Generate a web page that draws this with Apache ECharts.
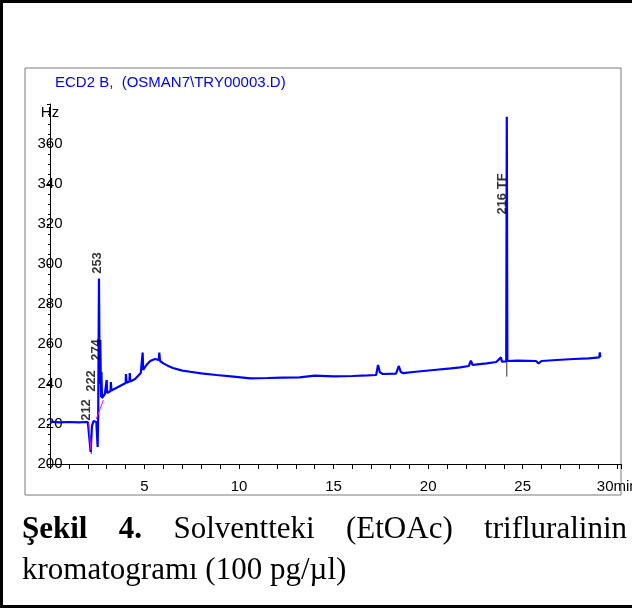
<!DOCTYPE html>
<html>
<head>
<meta charset="utf-8">
<script src="https://cdn.jsdelivr.net/npm/echarts@6/dist/echarts.min.js"></script>
<style>
  body { margin: 0; background: #fff; }
  #wrap { position: relative; width: 632px; height: 609px; overflow: hidden; }
  #main { position: absolute; left: 0; top: 0; width: 632px; height: 609px; }
  #frame { position: absolute; left: 0; top: 0; width: 640px; height: 608px; box-sizing: border-box;
           border: 3px solid #000; pointer-events: none; }
  #cap { position: absolute; left: 22px; top: 507px; width: 605px;
         font-family: "Liberation Serif", "Times New Roman", serif; font-size: 31px; line-height: 41px;
         text-align: justify; color: #000; }
</style>
</head>
<body>
<div id="wrap">
  <div id="main"></div>
  <div id="frame"></div>
  <div id="cap"><b>Şekil 4.</b> Solventteki (EtOAc) trifluralinin kromatogramı (100 pg/µl)</div>
</div>
<script type="text/javascript">
  // signal (time in min, response in Hz)
  var times = [0, 0.5, 1.0, 1.5, 2.0, 2.08, 2.15, 2.22, 2.3, 2.45, 2.5, 2.52, 2.55, 2.59, 2.63, 2.66, 2.7, 2.72, 2.75, 2.8,
               2.9, 2.98, 3.0, 3.02, 3.2, 3.22, 3.25, 3.5, 3.8, 4.0, 4.02, 4.05, 4.2, 4.22, 4.25, 4.5, 4.8, 4.88, 4.9, 4.93,
               5.1, 5.3, 5.55, 5.75, 5.78, 5.82, 6.0, 6.2, 6.5, 7.0, 7.5, 8.0, 8.8, 9.7, 10.6, 11.5, 12.3, 13.2, 14.0, 14.1,
               15.0, 16.0, 16.8, 17.25, 17.35, 17.45, 17.6, 18.3, 18.45, 18.55, 18.7, 19.2, 20.3, 21.2, 21.7, 22.15, 22.26, 22.35, 22.6, 23.1,
               23.6, 23.85, 23.9, 24.13, 24.16, 24.19, 24.7, 25.3, 25.7, 25.84, 26.0, 26.8, 27.7, 28.5, 29.05, 29.08, 29.1];
  var signal = [221.2, 220.8, 221, 220.8, 221, 220, 206, 219, 221.5, 221, 221, 208.5, 225, 292.8, 240, 262, 233.5, 246, 233, 234,
                235, 235.2, 242, 235.5, 236.5, 241, 236.8, 238, 239.5, 240.5, 245, 240.6, 241.2, 245.5, 241.3, 242.5, 245.5, 246.5, 255.7, 247,
                249.5, 251.5, 252.5, 252, 255.7, 251.5, 250.3, 249.3, 248, 246.7, 246, 245.3, 244.5, 243.7, 242.8, 243, 243.2, 243.3, 244.2, 243.6,
                243.8, 244, 244.3, 244.5, 249.5, 245.8, 245, 245.2, 249, 246, 245.4, 246, 247, 247.8, 248.3, 249, 251.7, 249.5, 249.8, 250.3,
                251, 253.3, 251.2, 251.3, 373.6, 251.5, 251.7, 251.6, 251.5, 250.3, 251.5, 252, 252.5, 252.8, 253.3, 255.8, 253.5];

  // integration baselines (magenta)
  var baseA = [[2.05, 220.5], [2.16, 207]];
  var baseB = [[2.45, 222.5], [2.82, 232]];

  // peak marker ticks: [time, from, to]
  var peakTicks = [[2.18, 212, 205], [2.73, 238.6, 233.6], [24.16, 253.7, 243.7]];

  // peak annotation labels (centre of the rotated text)
  var labelText = ['212', '222', '274', '253', '216 TF'];
  var labelTime = [1.94, 2.2, 2.47, 2.5, 23.91];
  var labelValue = [227, 241.5, 257, 300.5, 335];

  var xTicks = [5, 10, 15, 20, 25, 30];

  var SANS = "'Liberation Sans', Arial, sans-serif";

  var myChart = echarts.init(document.getElementById('main'));

  var trace = [];
  for (var i = 0; i < times.length; i++) {
    trace.push([times[i], signal[i]]);
  }
  var labels = [];
  for (var j = 0; j < labelText.length; j++) {
    labels.push({ value: [labelTime[j], labelValue[j]], name: labelText[j] });
  }

  var series = [{
    type: 'line',
    data: trace,
    showSymbol: false,
    lineStyle: { color: '#0000ff', width: 2.2 },
    z: 3
  }];
  [baseA, baseB].forEach(function (seg) {
    series.push({
      type: 'line', data: seg, showSymbol: false,
      lineStyle: { color: '#ff00ff', width: 1 }, z: 4
    });
  });
  peakTicks.forEach(function (t) {
    series.push({
      type: 'line', data: [[t[0], t[1]], [t[0], t[2]]], showSymbol: false,
      lineStyle: { color: '#333', width: 1 }, z: 2
    });
  });
  series.push({
    type: 'scatter',
    data: labels,
    symbolSize: 0,
    label: {
      show: true, position: 'inside', rotate: 90,
      formatter: function (p) { return p.name; },
      color: '#000', fontSize: 13, fontWeight: 'bold', fontFamily: SANS,
      textBorderWidth: 0
    },
    z: 5
  });

  var option = {
    animation: false,
    title: {
      text: 'ECD2 B,  (OSMAN7\\TRY00003.D)',
      left: 50, top: 70,
      textStyle: { color: '#0000ff', fontSize: 15, fontWeight: 'normal', fontFamily: SANS }
    },
    grid: { left: 50, right: 11, top: 104, bottom: 145, containLabel: false, outerBoundsMode: 'none' },
    xAxis: {
      type: 'value', min: 0, max: 30.2, interval: 5,
      axisLine: { lineStyle: { color: '#000', width: 1 } },
      axisTick: { length: 5, lineStyle: { color: '#000' } },
      minorTick: { show: true, splitNumber: 5, length: 5, lineStyle: { color: '#000' } },
      splitLine: { show: false },
      axisLabel: {
        showMinLabel: false, showMaxLabel: false, margin: 15, hideOverlap: false,
        color: '#000', fontSize: 15, fontFamily: SANS,
        formatter: function (v) {
          if (xTicks.indexOf(v) < 0) return '';
          return v === 30 ? '30min' : String(v);
        }
      }
    },
    yAxis: {
      type: 'value', min: 200, max: 380, interval: 20,
      name: 'Hz', nameLocation: 'end', nameGap: -16,
      nameTextStyle: { color: '#000', fontSize: 15, fontFamily: SANS },
      axisLine: { show: true, lineStyle: { color: '#000', width: 1 } },
      axisTick: { show: true, length: 3, lineStyle: { color: '#000' } },
      minorTick: { show: true, splitNumber: 4, length: 2, lineStyle: { color: '#000' } },
      splitLine: { show: false },
      axisLabel: {
        showMaxLabel: false, margin: 0, align: 'center',
        color: '#000', fontSize: 15, fontFamily: SANS
      }
    },
    graphic: [{
      type: 'rect',
      shape: { x: 25, y: 68, width: 596, height: 427 },
      style: { fill: null, stroke: '#7a7a7a', lineWidth: 1 },
      silent: true
    }],
    series: series
  };

  myChart.setOption(option);
</script>
</body>
</html>
